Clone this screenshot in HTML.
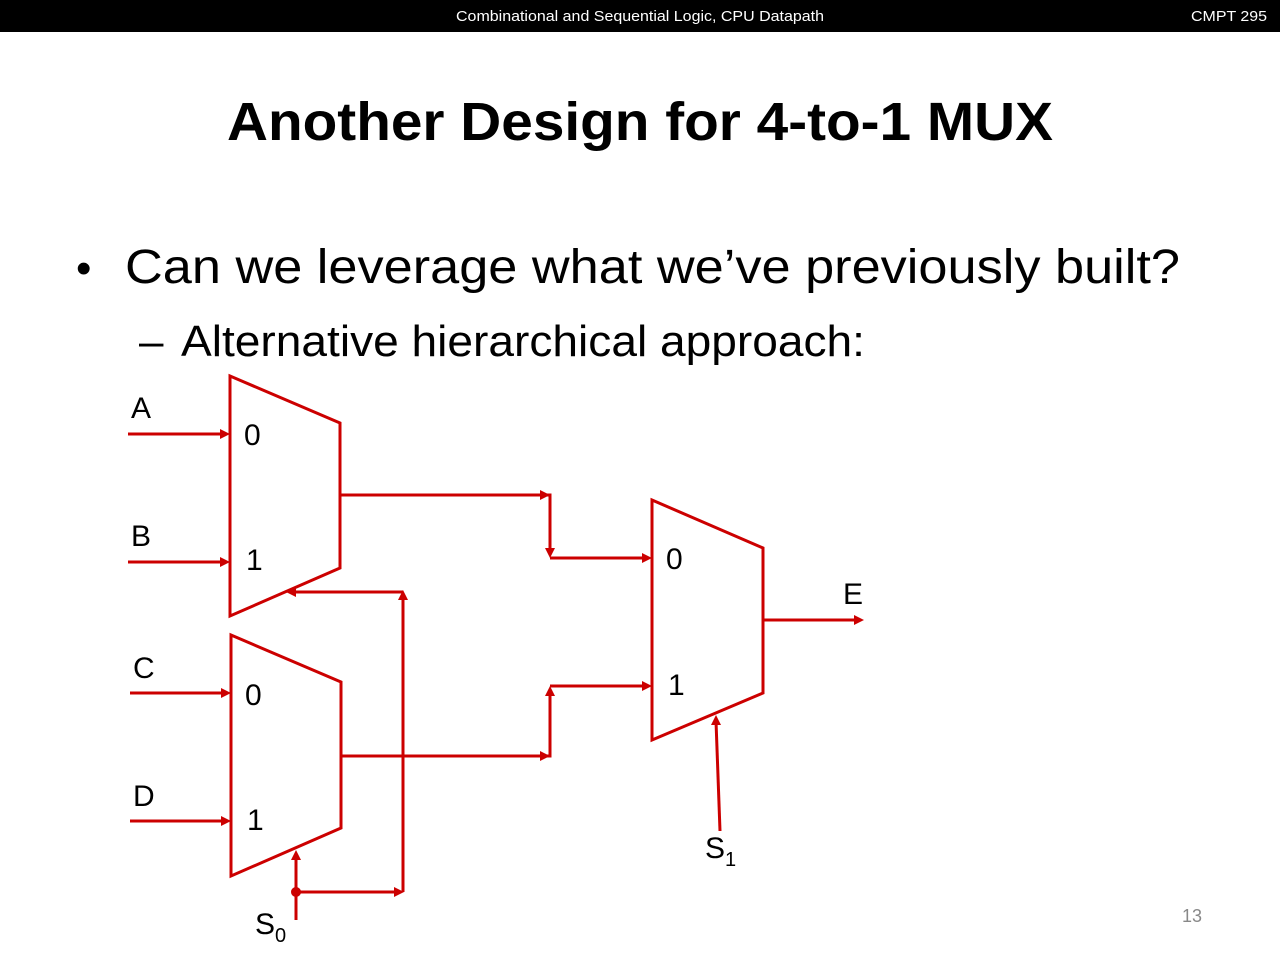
<!DOCTYPE html>
<html><head><meta charset="utf-8"><style>
html,body{margin:0;padding:0;background:#fff;}
svg{display:block;}
</style></head><body>
<svg width="1280" height="960" viewBox="0 0 1280 960" xmlns="http://www.w3.org/2000/svg" font-family="Liberation Sans, sans-serif">
<rect x="0" y="0" width="1280" height="32" fill="#000"/>
<text x="640" y="21" font-size="15" fill="#fff" text-anchor="middle" textLength="368" lengthAdjust="spacingAndGlyphs">Combinational and Sequential Logic, CPU Datapath</text>
<text x="1267" y="21" font-size="15" fill="#fff" text-anchor="end" textLength="76" lengthAdjust="spacingAndGlyphs">CMPT 295</text>
<text x="640" y="140" font-size="54" font-weight="bold" fill="#000" text-anchor="middle" textLength="826" lengthAdjust="spacingAndGlyphs">Another Design for 4-to-1 MUX</text>
<text x="76" y="283" font-size="44" fill="#000">•</text>
<text x="125" y="283" font-size="48" fill="#000" textLength="1055" lengthAdjust="spacingAndGlyphs">Can we leverage what we’ve previously built?</text>
<text x="139" y="356" font-size="44" fill="#000">–</text>
<text x="181" y="356" font-size="44" fill="#000" textLength="684" lengthAdjust="spacingAndGlyphs">Alternative hierarchical approach:</text>

<g stroke="#cc0000" stroke-width="3" fill="none">
<polygon points="230,376 340,423 340,568 230,616"/>
<polygon points="231,635 341,682 341,828 231,876"/>
<polygon points="652,500 763,548 763,693 652,740"/>
<line x1="128" y1="434" x2="224" y2="434"/>
<line x1="128" y1="562" x2="224" y2="562"/>
<line x1="130" y1="693" x2="225" y2="693"/>
<line x1="130" y1="821" x2="225" y2="821"/>
<polyline points="340,495 550,495 550,552"/>
<line x1="550" y1="558" x2="646" y2="558"/>
<polyline points="341,756 550,756 550,692"/>
<line x1="550" y1="686" x2="646" y2="686"/>
<line x1="296" y1="920" x2="296" y2="856"/>
<line x1="296" y1="892" x2="398" y2="892"/>
<line x1="403" y1="892" x2="403" y2="596"/>
<line x1="403" y1="592" x2="292" y2="592"/>
<line x1="720" y1="831" x2="716" y2="721"/>
<line x1="763" y1="620" x2="858" y2="620"/>
</g>
<g fill="#cc0000">
<polygon points="230,434 220,429 220,439"/>
<polygon points="230,562 220,557 220,567"/>
<polygon points="231,693 221,688 221,698"/>
<polygon points="231,821 221,816 221,826"/>
<polygon points="550,495 540,490 540,500"/>
<polygon points="550,558 545,548 555,548"/>
<polygon points="652,558 642,553 642,563"/>
<polygon points="550,756 540,751 540,761"/>
<polygon points="550,686 545,696 555,696"/>
<polygon points="652,686 642,681 642,691"/>
<polygon points="296,850 291,860 301,860"/>
<circle cx="296" cy="892" r="5"/>
<polygon points="404,892 394,887 394,897"/>
<polygon points="403,590 398,600 408,600"/>
<polygon points="286,592 296,587 296,597"/>
<polygon points="716,715 711,725 721,725"/>
<polygon points="864,620 854,615 854,625"/>
</g>

<g font-size="30" fill="#000">
<text x="131" y="418">A</text>
<text x="131" y="546">B</text>
<text x="133" y="678">C</text>
<text x="133" y="806">D</text>
<text x="244" y="445">0</text>
<text x="246" y="570">1</text>
<text x="245" y="705">0</text>
<text x="247" y="830">1</text>
<text x="666" y="569">0</text>
<text x="668" y="695">1</text>
<text x="843" y="604">E</text>
<text x="255" y="934">S<tspan font-size="20" dy="8">0</tspan></text>
<text x="705" y="858">S<tspan font-size="20" dy="8">1</tspan></text>
</g>

<text x="1202" y="922" font-size="18" fill="#888" text-anchor="end">13</text>
</svg>
</body></html>
